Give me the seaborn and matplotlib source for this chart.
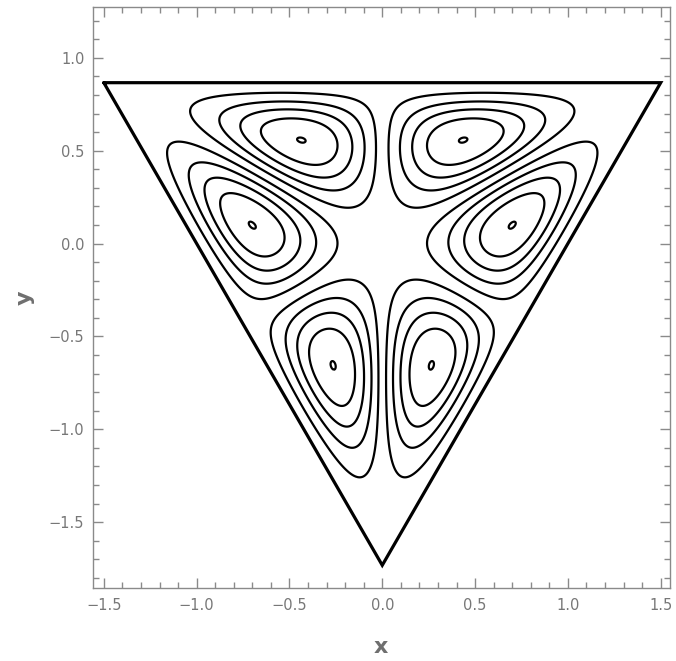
import numpy as np
import pandas as pd
import matplotlib
matplotlib.use("Agg")
import matplotlib.pyplot as plt
from matplotlib.ticker import MultipleLocator
import seaborn as sns

# ---- chart values -------------------------------------------------------
TRI_X = [-1.5, 1.5, 0.0, -1.5]          # equilateral container (closed outline)
TRI_Y = [0.866, 0.866, -1.732, 0.866]
LEVELS = [0.125, 0.346, 0.562, 0.776, 0.997]   # contour levels, fraction of peak |psi|
X_TICKS = [-1.5, -1.0, -0.5, 0.0, 0.5, 1.0, 1.5]
Y_TICKS = [-1.5, -1.0, -0.5, 0.0, 0.5, 1.0]
X_LIM = (-1.56, 1.55)
Y_LIM = (-1.856, 1.272)

sns.set_style("ticks")
plt.rcParams["font.family"] = ["DejaVu Sans"]

# ---- six-cell stream function: no-slip wall factor squared x three-fold mode
s3 = np.sqrt(3.0)
xs = np.linspace(-1.52, 1.52, 1000)
ys = np.linspace(-1.76, 0.89, 900)
X, Y = np.meshgrid(xs, ys)
wall = (s3 / 2 - Y) * (s3 + s3 * X + Y) / 2 * (s3 - s3 * X + Y) / 2
three = X * (3 * Y ** 2 - X ** 2)
psi = wall ** 2 * three
inside = (Y <= s3 / 2) & (Y >= -s3 + s3 * np.abs(X))
psi = np.where(inside, psi, np.nan)
psi = psi / np.nanmax(np.abs(psi))

# ---- figure ---------------------------------------------------------------
fig = plt.figure(figsize=(6.76, 6.61), dpi=100)
ax = fig.add_axes([0.1371, 0.1100, 0.8540, 0.8790])

lv = sorted([-v for v in LEVELS] + LEVELS)
ax.contour(X, Y, psi, levels=lv, colors="black", linewidths=1.6,
           linestyles="solid")

tri = pd.DataFrame({"x": TRI_X, "y": TRI_Y})
sns.lineplot(data=tri, x="x", y="y", sort=False, estimator=None, ax=ax,
             color="black", linewidth=2.3, solid_joinstyle="miter")

ax.set_xlim(*X_LIM)
ax.set_ylim(*Y_LIM)

ax.set_xticks(X_TICKS)
ax.set_yticks(Y_TICKS)
ax.set_xticklabels([f"{v:.1f}".replace("-", "\u2212") for v in X_TICKS])
ax.set_yticklabels([f"{v:.1f}".replace("-", "\u2212") for v in Y_TICKS])
ax.xaxis.set_minor_locator(MultipleLocator(0.1))
ax.yaxis.set_minor_locator(MultipleLocator(0.1))

gray = "#8a8a8a"
for sp in ax.spines.values():
    sp.set_visible(True)
    sp.set_color(gray)
    sp.set_linewidth(1.0)
ax.tick_params(which="both", direction="in", top=True, right=True,
               color=gray, width=1.0, labelcolor="#777777", labelsize=10.5)
ax.tick_params(which="major", length=7)
ax.tick_params(which="minor", length=4)
ax.tick_params(axis="x", pad=7)
ax.tick_params(axis="y", pad=6)

ax.set_xlabel("x", fontsize=16, fontweight="bold", color="#6f6f6f", labelpad=17)
ax.set_ylabel("y", fontsize=16, fontweight="bold", color="#6f6f6f", labelpad=10)

fig.savefig("out.png", dpi=100)
